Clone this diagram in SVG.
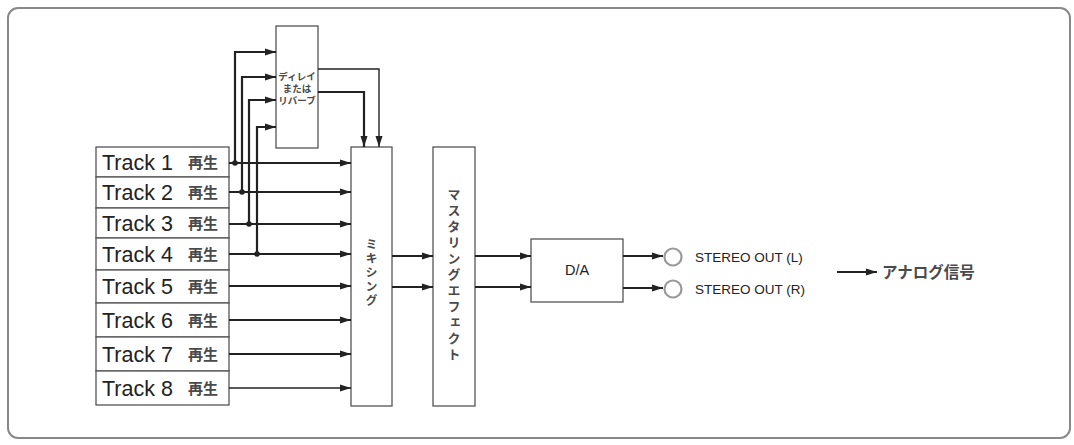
<svg xmlns="http://www.w3.org/2000/svg" width="1074" height="445" viewBox="0 0 1074 445">
<style>
.box{fill:#fff;stroke:#555;stroke-width:1.3}
.ln{fill:none;stroke:#222;stroke-width:2.2}
.thin{fill:none;stroke:#222;stroke-width:1.4}
.trk{font-family:"Liberation Sans","Noto Sans CJK JP",sans-serif;font-size:21.5px;fill:#222}
.jp{font-family:"Noto Sans CJK JP",sans-serif;font-weight:bold;fill:#4a4a4a}
.lat{font-family:"Liberation Sans","Noto Sans CJK JP",sans-serif;fill:#222}
</style>
<defs>
<marker id="ah" markerUnits="userSpaceOnUse" markerWidth="11" markerHeight="8" refX="11" refY="4" orient="auto">
<path d="M0,0.5 L11,4 L0,7.5 z" fill="#222"/>
</marker>
</defs>
<rect x="8" y="8" width="1062" height="430" rx="10" ry="10" fill="#fff" stroke="#888" stroke-width="2"/>

<g id="tracks">
<g id="track1"><rect class="box" x="96" y="147" width="133" height="30"/><text class="trk" x="102" y="170">Track 1</text><text class="jp" x="188" y="168" font-size="15">再生</text></g>
<g id="track2"><rect class="box" x="96" y="177" width="133" height="31"/><text class="trk" x="102" y="200">Track 2</text><text class="jp" x="188" y="198" font-size="15">再生</text></g>
<g id="track3"><rect class="box" x="96" y="208" width="133" height="30"/><text class="trk" x="102" y="231">Track 3</text><text class="jp" x="188" y="229" font-size="15">再生</text></g>
<g id="track4"><rect class="box" x="96" y="238" width="133" height="32"/><text class="trk" x="102" y="262">Track 4</text><text class="jp" x="188" y="260" font-size="15">再生</text></g>
<g id="track5"><rect class="box" x="96" y="270" width="133" height="33"/><text class="trk" x="102" y="294">Track 5</text><text class="jp" x="188" y="292" font-size="15">再生</text></g>
<g id="track6"><rect class="box" x="96" y="303" width="133" height="34"/><text class="trk" x="102" y="328">Track 6</text><text class="jp" x="188" y="326" font-size="15">再生</text></g>
<g id="track7"><rect class="box" x="96" y="337" width="133" height="34"/><text class="trk" x="102" y="362">Track 7</text><text class="jp" x="188" y="360" font-size="15">再生</text></g>
<g id="track8"><rect class="box" x="96" y="371" width="133" height="34"/><text class="trk" x="102" y="396">Track 8</text><text class="jp" x="188" y="394" font-size="15">再生</text></g>
</g>

<g id="delay">
<rect class="box" x="276" y="26" width="42" height="122"/>
<text class="jp" font-size="9.5" text-anchor="middle" x="297" y="80"><tspan x="297">ディレイ</tspan><tspan x="297" dy="12">または</tspan><tspan x="297" dy="12">リバーブ</tspan></text>
</g>

<g id="mixing">
<rect class="box" x="351" y="147" width="41" height="259"/>
<text class="jp" font-size="12" writing-mode="vertical-rl" text-anchor="middle" letter-spacing="2" x="371.5" y="273">ミキシング</text>
</g>

<g id="mastering">
<rect class="box" x="433" y="147" width="42" height="259"/>
<text class="jp" font-size="13" writing-mode="vertical-rl" text-anchor="middle" letter-spacing="3" x="454" y="276">マスタリングエフェクト</text>
</g>

<g id="da">
<rect class="box" x="531" y="239" width="92" height="63"/>
<text class="lat" font-size="14.5" text-anchor="middle" x="577" y="275">D/A</text>
</g>

<g id="outL">
<circle cx="673" cy="257" r="8.5" fill="#fff" stroke="#999" stroke-width="2.2"/>
<text class="lat" font-size="13.5" x="695" y="262">STEREO OUT (L)</text>
</g>
<g id="outR">
<circle cx="673" cy="289" r="8.5" fill="#fff" stroke="#999" stroke-width="2.2"/>
<text class="lat" font-size="13.5" x="695" y="294">STEREO OUT (R)</text>
</g>

<g id="analog">
<text class="jp" font-size="15.5" x="882" y="278">アナログ信号</text>
</g>

<g id="connectors">
<line class="ln" x1="229" y1="163" x2="351" y2="163" marker-end="url(#ah)"/>
<line class="ln" x1="229" y1="192" x2="351" y2="192" marker-end="url(#ah)"/>
<line class="ln" x1="229" y1="224" x2="351" y2="224" marker-end="url(#ah)"/>
<line class="ln" x1="229" y1="254" x2="351" y2="254" marker-end="url(#ah)"/>
<line class="ln" x1="229" y1="286" x2="351" y2="286" marker-end="url(#ah)"/>
<line class="ln" x1="229" y1="320" x2="351" y2="320" marker-end="url(#ah)"/>
<line class="ln" x1="229" y1="354" x2="351" y2="354" marker-end="url(#ah)"/>
<line class="thin" x1="229" y1="388" x2="351" y2="388" marker-end="url(#ah)"/>
<path class="ln" d="M235,163 V52 H276" marker-end="url(#ah)"/>
<path class="ln" d="M242,192 V77 H276" marker-end="url(#ah)"/>
<path class="ln" d="M249,224 V100 H276" marker-end="url(#ah)"/>
<path class="ln" d="M257,254 V127 H276" marker-end="url(#ah)"/>
<circle cx="235" cy="163" r="2.8" fill="#222"/>
<circle cx="242" cy="192" r="2.8" fill="#222"/>
<circle cx="249" cy="224" r="2.8" fill="#222"/>
<circle cx="257" cy="254" r="2.8" fill="#222"/>
<path class="thin" d="M318,69 H379 V147" marker-end="url(#ah)"/>
<path class="ln" d="M318,92 H364 V147" marker-end="url(#ah)"/>
<line class="ln" x1="392" y1="256" x2="433" y2="256" marker-end="url(#ah)"/>
<line class="ln" x1="392" y1="287" x2="433" y2="287" marker-end="url(#ah)"/>
<line class="ln" x1="475" y1="256" x2="531" y2="256" marker-end="url(#ah)"/>
<line class="ln" x1="475" y1="287" x2="531" y2="287" marker-end="url(#ah)"/>
<line class="ln" x1="623" y1="256" x2="663" y2="256" marker-end="url(#ah)"/>
<line class="ln" x1="623" y1="288" x2="663" y2="288" marker-end="url(#ah)"/>
<line class="ln" x1="837" y1="272" x2="877" y2="272" marker-end="url(#ah)"/>
</g>
</svg>
